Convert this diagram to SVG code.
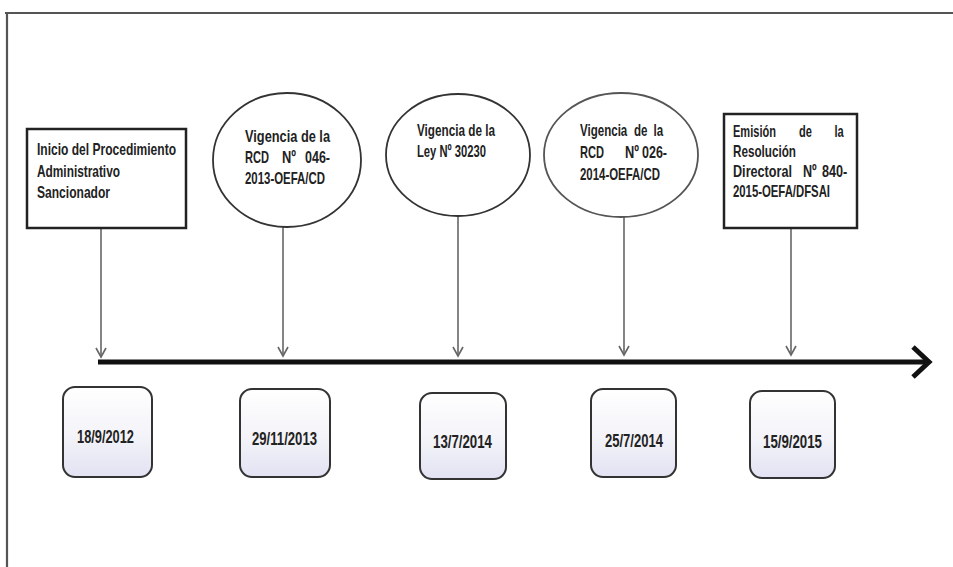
<svg xmlns="http://www.w3.org/2000/svg" width="953" height="567" viewBox="0 0 953 567">
<style>
.t{font-family:"Liberation Sans",Arial,sans-serif;font-weight:bold;font-size:17px;fill:#222}
.d{font-family:"Liberation Sans",Arial,sans-serif;font-weight:bold;font-size:18px;fill:#222}
.box{fill:#fff;stroke:#222;stroke-width:2.5}
.ell{fill:#fff;stroke:#333;stroke-width:1.8}
.date{fill:url(#g);stroke:#333;stroke-width:2}
.conn{stroke:#666;stroke-width:1.6;fill:none}
</style>
<defs>
<linearGradient id="g" x1="0" y1="0" x2="0" y2="1">
<stop offset="0" stop-color="#ffffff"/>
<stop offset="0.55" stop-color="#f3f3f9"/>
<stop offset="1" stop-color="#e2e2f3"/>
</linearGradient>
<marker id="ah" markerWidth="12" markerHeight="12" refX="10" refY="6" orient="auto" markerUnits="userSpaceOnUse">
<path d="M1,1 L10,6 L1,11" fill="none" stroke="#666" stroke-width="1.6"/>
</marker>
</defs>
<rect width="953" height="567" fill="#fff"/>
<g id="frame">
<path d="M5,13 H953 M7,13 V567" stroke="#555" stroke-width="2.2" fill="none"/>
</g>
<g id="connectors">
<line class="conn" x1="101" y1="229" x2="101" y2="357" marker-end="url(#ah)"/>
<line class="conn" x1="283" y1="227" x2="283" y2="356" marker-end="url(#ah)"/>
<line class="conn" x1="458" y1="216" x2="458" y2="356" marker-end="url(#ah)"/>
<line class="conn" x1="624" y1="217" x2="624" y2="355" marker-end="url(#ah)"/>
<line class="conn" x1="791" y1="229" x2="791" y2="355" marker-end="url(#ah)"/>
<line x1="98" y1="362" x2="927" y2="362" stroke="#111" stroke-width="5"/>
<path d="M913,347 L929,362 L913,377" fill="none" stroke="#111" stroke-width="5" stroke-linejoin="miter"/>
</g>
<g id="n1">
<rect class="box" x="27" y="129" width="159" height="99"/>
<text class="t" x="37" y="155" textLength="139" lengthAdjust="spacingAndGlyphs">Inicio del Procedimiento</text>
<text class="t" x="37" y="177" textLength="83" lengthAdjust="spacingAndGlyphs">Administrativo</text>
<text class="t" x="37" y="198" textLength="73" lengthAdjust="spacingAndGlyphs">Sancionador</text>
</g>
<g id="n2">
<ellipse class="ell" cx="287" cy="160" rx="74" ry="67"/>
<text class="t" x="245" y="142" textLength="85" lengthAdjust="spacingAndGlyphs">Vigencia de la</text>
<text class="t" y="163"><tspan x="245" textLength="24" lengthAdjust="spacingAndGlyphs">RCD</tspan><tspan x="282" textLength="14" lengthAdjust="spacingAndGlyphs">Nº</tspan><tspan x="305" textLength="25" lengthAdjust="spacingAndGlyphs">046-</tspan></text>
<text class="t" x="245" y="184" textLength="80" lengthAdjust="spacingAndGlyphs">2013-OEFA/CD</text>
</g>
<g id="n3">
<ellipse class="ell" cx="458" cy="155" rx="72" ry="61"/>
<text class="t" x="417" y="136" textLength="78" lengthAdjust="spacingAndGlyphs">Vigencia de la</text>
<text class="t" x="417" y="157" textLength="69" lengthAdjust="spacingAndGlyphs">Ley Nº 30230</text>
</g>
<g id="n4">
<ellipse class="ell" cx="621" cy="155" rx="77" ry="62" style="stroke:#555"/>
<text class="t" transform="translate(580,136) scale(0.68,1)"><tspan x="0" y="0">Vigencia</tspan><tspan x="79.4" y="0">de</tspan><tspan x="108" y="0">la</tspan></text>
<text class="t" y="158"><tspan x="580" textLength="24" lengthAdjust="spacingAndGlyphs">RCD</tspan><tspan x="625" textLength="14" lengthAdjust="spacingAndGlyphs">Nº</tspan><tspan x="642" textLength="25" lengthAdjust="spacingAndGlyphs">026-</tspan></text>
<text class="t" x="580" y="180" textLength="80" lengthAdjust="spacingAndGlyphs">2014-OEFA/CD</text>
</g>
<g id="n5">
<rect class="box" x="724" y="114" width="133" height="114"/>
<text class="t" transform="translate(733,137) scale(0.65,1)"><tspan x="0" y="0">Emisión</tspan><tspan x="101.5" y="0">de</tspan><tspan x="156" y="0">la</tspan></text>
<text class="t" x="733" y="157" textLength="63" lengthAdjust="spacingAndGlyphs">Resolución</text>
<text class="t" transform="translate(733,177) scale(0.743,1)"><tspan x="0" y="0">Directoral</tspan><tspan x="94.2" y="0">Nº</tspan><tspan x="119.8" y="0">840-</tspan></text>
<text class="t" x="733" y="197" textLength="97" lengthAdjust="spacingAndGlyphs">2015-OEFA/DFSAI</text>
</g>
<g id="d1">
<rect class="date" x="63" y="387" width="89" height="90" rx="12"/>
<text class="d" x="77" y="443" textLength="57" lengthAdjust="spacingAndGlyphs">18/9/2012</text>
</g>
<g id="d2">
<rect class="date" x="240" y="389" width="90" height="88" rx="12"/>
<text class="d" x="252" y="445" textLength="65" lengthAdjust="spacingAndGlyphs">29/11/2013</text>
</g>
<g id="d3">
<rect class="date" x="420" y="393" width="86" height="86" rx="12"/>
<text class="d" x="433" y="448" textLength="59" lengthAdjust="spacingAndGlyphs">13/7/2014</text>
</g>
<g id="d4">
<rect class="date" x="591" y="389" width="85" height="88" rx="12"/>
<text class="d" x="605" y="447" textLength="58" lengthAdjust="spacingAndGlyphs">25/7/2014</text>
</g>
<g id="d5">
<rect class="date" x="750" y="391" width="85" height="87" rx="12"/>
<text class="d" x="763" y="448" textLength="59" lengthAdjust="spacingAndGlyphs">15/9/2015</text>
</g>
</svg>
